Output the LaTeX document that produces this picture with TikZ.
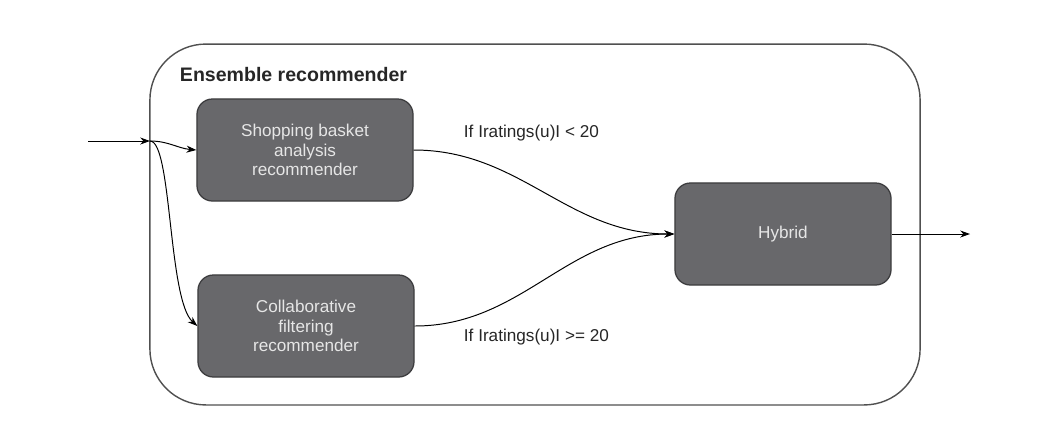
\documentclass[tikz,border=0pt]{standalone}
\usepackage{fontspec}
\setmainfont{Liberation Sans}
\usetikzlibrary{arrows.meta}
\definecolor{boxgray}{HTML}{68686B}
\definecolor{boxline}{HTML}{3C3C3E}
\definecolor{framegray}{HTML}{505050}
\definecolor{textgray}{HTML}{E6E6E6}
\tikzset{
  recbox/.style={draw=boxline, line width=0.9pt, fill=boxgray, rounded corners=11pt,
    minimum width=5.4cm, minimum height=2.55cm, text=textgray, align=center,
    font=\fontsize{12.2}{13.9}\selectfont},
  flow/.style={line width=0.7pt, -{Stealth[length=7pt,width=5pt]}},
  cond/.style={font=\fontsize{12.2}{14}\selectfont, anchor=west, text=black!85},
}

\begin{document}
\begin{tikzpicture}[x=0.025cm, y=-0.025cm]
    \useasboundingbox (0,0) rectangle (1064,443);

    \node[draw=framegray, line width=1pt, rounded corners=1.4cm,
          minimum width=19.25cm, minimum height=9.02cm] (ensemble) at (535,224.5) {};
    \node[font=\fontsize{13.9}{16}\selectfont\bfseries, anchor=west, text=black!85] (title) at (175,75) {Ensemble recommender};

    \node[recbox] (basket) at (305,150) {Shopping basket\\analysis\\recommender};
    \node[recbox] (collab) at (306,326) {Collaborative\\filtering\\recommender};
    \node[recbox] (hybrid) at (783,234) {Hybrid};

    \coordinate (input)  at (88,141);
    \coordinate (split)  at (150,141);
    \coordinate (output) at (970,234);

    \draw[flow] (input) -- (split);
    \draw[flow] (split) to[out=0, in=175] (basket.west);
    \draw[flow] (split) .. controls (172,141) and (168,300) .. (collab.west);
    \draw[flow] (basket.east) to[out=0, in=180] (hybrid.west);
    \draw[flow] (collab.east) to[out=0, in=180] (hybrid.west);
    \draw[flow] (hybrid.east) -- (output);

    \node[cond] (lowcond)  at (459,133) {If Iratings(u)I < 20};
    \node[cond] (highcond) at (459,337) {If Iratings(u)I >= 20};
\end{tikzpicture}
\end{document}
